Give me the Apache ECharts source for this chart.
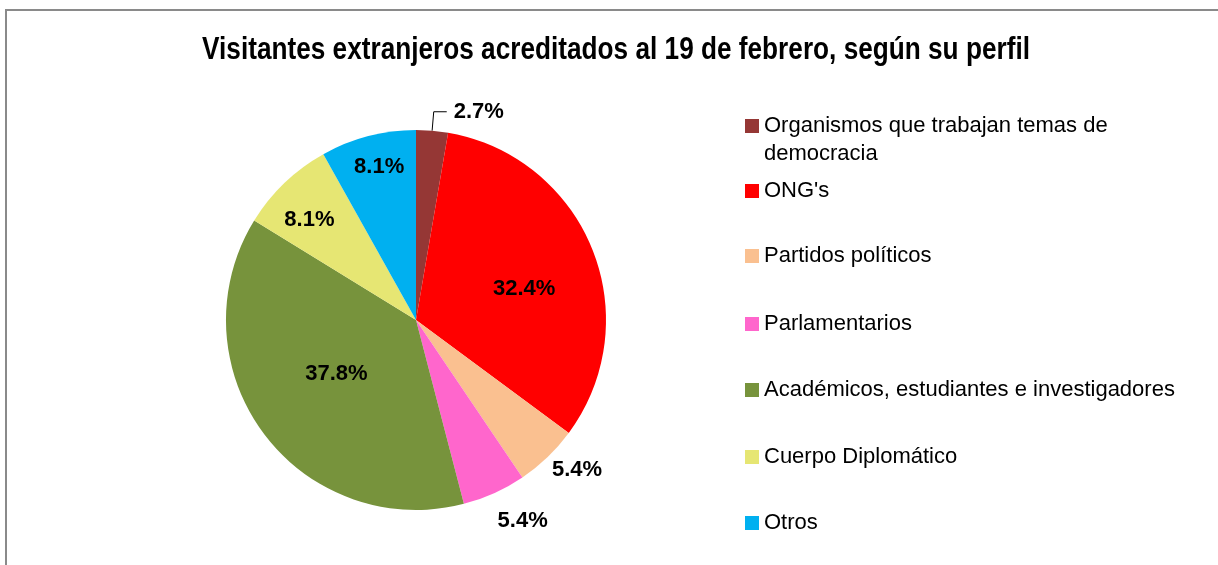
<!DOCTYPE html>
<html>
<head>
<meta charset="utf-8">
<script src="https://cdn.jsdelivr.net/npm/echarts@6/dist/echarts.min.js"></script>
<style>
html,body{margin:0;padding:0;background:#fff;}
#chart{width:1218px;height:565px;}
</style>
</head>
<body>
<div id="chart"></div>
<script>
// ---- data ----
const categories = [
  "Organismos que trabajan temas de democracia",
  "ONG's",
  "Partidos políticos",
  "Parlamentarios",
  "Académicos, estudiantes e investigadores",
  "Cuerpo Diplomático",
  "Otros"
];
const values = [2.7, 32.4, 5.4, 5.4, 37.8, 8.1, 8.1];
const palette = ['#953735', '#FF0000', '#FAC090', '#FF66CC', '#77933C', '#E6E673', '#00B0F0'];
const titleText = 'Visitantes extranjeros acreditados al 19 de febrero, según su perfil';

// ---- label placement (layout only) ----
const labelLen = [19, -106, 18, 30, -100, -52, -32];
const labelLen2 = [13, 0, 0, 0, 0, 0, 0];
const labelDist = [7, -1, -8, -9, -24, -14, -28];
const legendCenters = [124, 189, 254, 322, 388, 455, 521];

const regular = "'Liberation Sans', Arial, sans-serif";

const chart = echarts.init(document.getElementById('chart'), null, {renderer: 'canvas'});

const pieData = categories.map((name, i) => ({
  name: name,
  value: values[i],
  itemStyle: {color: palette[i]},
  label: {distanceToLabelLine: labelDist[i]},
  labelLine: {show: i === 0, length: labelLen[i], length2: labelLen2[i]}
}));

const legends = categories.map((name, i) => Object.assign({
  data: [name],
  orient: 'vertical',
  left: 745,
  top: legendCenters[i] - (i === 0 ? 40 : 12),
  padding: 0,
  itemWidth: 14,
  itemHeight: 14,
  itemGap: 0,
  icon: 'rect',
  selectedMode: false,
  textStyle: Object.assign({
    fontFamily: regular,
    fontSize: 22,
    color: '#000',
    lineHeight: 28
  }, i === 0 ? {width: 352, overflow: 'break'} : {})
}, i === 0 ? {formatter: n => '\n' + n} : {}));

chart.setOption({
  animation: false,
  backgroundColor: '#fff',
  graphic: [{
    type: 'polyline',
    shape: {points: [[6, 565], [6, 10], [1218, 10]]},
    style: {stroke: '#8a8a8a', lineWidth: 2, fill: null},
    silent: true
  }, {
    type: 'text',
    x: 616,
    y: 50,
    scaleX: 0.845,
    silent: true,
    style: {
      text: titleText,
      align: 'center',
      verticalAlign: 'middle',
      fontFamily: regular,
      fontWeight: 'bold',
      fontSize: 31,
      fill: '#000'
    }
  }],
  legend: legends,
  series: [{
    type: 'pie',
    center: [416, 320],
    radius: [0, 190],
    startAngle: 90,
    clockwise: true,
    avoidLabelOverlap: false,
    minShowLabelAngle: 0,
    label: {
      show: true,
      position: 'outside',
      formatter: p => p.value.toFixed(1) + '%',
      fontFamily: regular,
      fontWeight: 'bold',
      fontSize: 22,
      color: '#000'
    },
    labelLine: {
      smooth: false,
      lineStyle: {color: '#000', width: 1}
    },
    emphasis: {disabled: true},
    itemStyle: {borderWidth: 0},
    data: pieData
  }]
});
</script>
</body>
</html>
